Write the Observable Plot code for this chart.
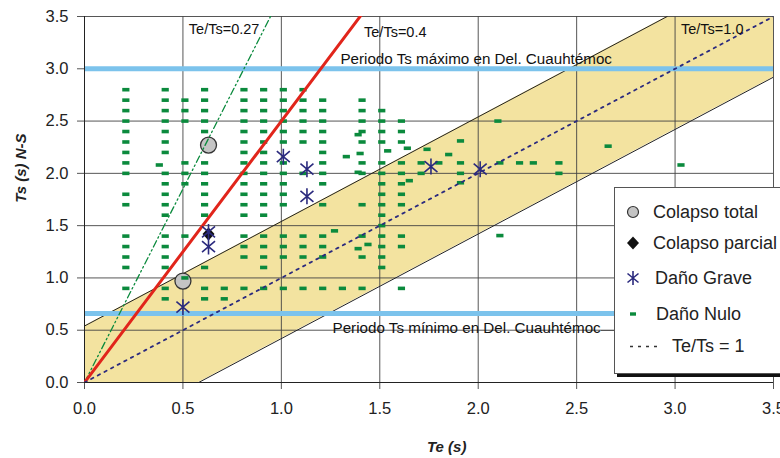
<!DOCTYPE html>
<html><head><meta charset="utf-8">
<script src="https://cdn.jsdelivr.net/npm/d3@7"></script>
<script src="https://cdn.jsdelivr.net/npm/@observablehq/plot@0.6"></script>
<style>
html,body{margin:0;padding:0;background:#fff;overflow:hidden;}
#wrap{position:relative;width:780px;height:458px;overflow:hidden;font-family:'Liberation Sans',Arial,sans-serif;}
#legend{position:absolute;left:614px;top:187px;width:185px;height:185px;border:1px solid #555;background:#fff;box-shadow:3px 3px 0 #111;}
.li{position:absolute;height:24px;line-height:24px;font-size:18px;color:#222;white-space:nowrap;}
.ls{position:absolute;left:5px;width:26px;height:24px;}
#leader{position:absolute;left:601px;top:330px;width:13px;height:1px;background:#555;}
</style></head>
<body><div id="wrap"><div id="chart"></div><div id="leader"></div><div id="legend"></div></div>
<script>
// ---- data ----
const xTicks = [0, 0.5, 1, 1.5, 2, 2.5, 3, 3.5];
const yTicks = [0, 0.5, 1, 1.5, 2, 2.5, 3, 3.5];
const xLabel = "Te (s)";
const yLabel = "Ts (s) N-S";
const xLabelPos = [1.84, -0.62];   // data position of x-axis title
const yLabelPos = [-0.32, 2.05];   // data position of y-axis title

const colapsoTotalTe = [0.63, 0.50];
const colapsoTotalTs = [2.27, 0.97];
const colapsoParcialTe = [0.63];
const colapsoParcialTs = [1.42];
const graveTe = [0.63, 0.63, 0.50, 1.01, 1.13, 1.13, 1.76, 2.01];
const graveTs = [1.44, 1.30, 0.72, 2.16, 2.04, 1.78, 2.065, 2.04];

// Daño Nulo: columns of buildings at the same Te
const nuloColTe = [0.21, 0.41, 0.51, 0.61, 0.71, 0.81, 0.91, 1.01, 1.11, 1.21, 1.31, 1.41, 1.51, 1.61];
const nuloColTs = [
  [2.8,2.7,2.6,2.5,2.4,2.3,2.2,2.1,2.0,1.8,1.7,1.4,1.3,1.2,1.1,0.9],
  [2.8,2.7,2.6,2.5,2.4,2.3,2.2,2.0,1.9,1.8,1.7,1.6,1.4,1.3,1.2,1.1,0.9,0.8],
  [2.7,2.6,2.5,2.1,2.0,1.9,1.4,1.0],
  [2.8,2.7,2.6,2.5,2.4,2.1,2.0,1.9,1.8,1.7,1.6,1.1,0.9,0.8],
  [0.9,0.8],
  [2.8,2.7,2.6,2.5,2.4,2.3,2.2,2.1,2.0,1.9,1.8,1.7,1.6,1.4,1.3,1.2,0.9],
  [2.8,2.7,2.6,2.5,2.4,2.3,2.2,2.1,2.0,1.9,1.8,1.7,1.6,1.4,1.3,1.2,1.1,0.9],
  [2.8,2.7,2.6,2.5,2.4,2.3,2.1,2.0,1.9,1.8,1.7,1.4,1.3,1.2,0.9],
  [2.8,2.7,2.6,2.5,2.4,2.3,2.0,1.4,1.3,1.2,0.9],
  [2.7,2.6,2.5,2.4,2.3,2.2,2.1,2.0,1.9,1.7,1.4,1.3,1.2,0.9],
  [0.9],
  [2.7,2.6,2.5,2.4,2.3,2.1,2.0,1.7,1.4,1.2,0.9],
  [2.6,2.5,2.4,2.3,2.1,2.0,1.9,1.8,1.7,1.6,1.5,1.4,1.3,1.2,1.1],
  [2.5,2.4,2.3,2.1,2.0,1.9,1.8,1.7,1.4,1.3,0.9]
];
// Daño Nulo: scattered buildings
const nuloExtraTe = [0.38, 1.33, 1.27, 1.39, 1.40, 1.39, 1.44, 1.39, 1.54, 1.64, 1.65, 1.71, 1.71, 1.74, 1.80, 1.85, 1.91, 1.91, 1.91, 1.91, 2.10, 2.11, 2.11, 2.21, 2.28, 2.41, 2.41, 2.66, 3.03];
const nuloExtraTs = [2.08, 2.16, 1.45, 2.37, 2.19, 2.01, 1.32, 1.28, 2.215, 2.24, 1.93, 2.1, 2.0, 2.23, 2.1, 2.18, 2.31, 2.1, 2.0, 1.91, 2.5, 2.1, 1.405, 2.1, 2.1, 2.1, 2.0, 2.26, 2.08];

const ratios = [0.27, 0.4, 1.0];
const bandUpper = 0.54;   // Ts = Te + 0.54
const bandLower = 0.58;   // Ts = Te - 0.58
const periodTs = [3.0, 0.66];

const annoText = ["Te/Ts=0.27", "Te/Ts=0.4", "Te/Ts=1.0"];
const annoTe = [0.53, 1.42, 3.03];
const annoTs = [3.378, 3.353, 3.378];
const periodText = ["Periodo Ts máximo en Del. Cuauhtémoc", "Periodo Ts mínimo en Del. Cuauhtémoc"];
const periodTextTe = [1.30, 1.26];
const periodTextTs = [3.095, 0.516];

const legendLabels = ["Colapso total", "Colapso parcial", "Daño Grave", "Daño Nulo", "Te/Ts = 1"];

// ---- build ----
const XMAX = 3.5, YMAX = 3.5;
const nulo = nuloColTe.flatMap((te, i) => nuloColTs[i].map(ts => ({te, ts})))
  .concat(nuloExtraTe.map((te, i) => ({te, ts: nuloExtraTs[i]})));
const total = colapsoTotalTe.map((te, i) => ({te, ts: colapsoTotalTs[i]}));
const parcial = colapsoParcialTe.map((te, i) => ({te, ts: colapsoParcialTs[i]}));
const grave = graveTe.map((te, i) => ({te, ts: graveTs[i]}));
const band = [0, bandLower, YMAX - bandUpper, XMAX].map(x => ({x, lo: Math.max(0, x - bandLower), hi: Math.min(YMAX, x + bandUpper)}));
const ratioLine = r => [[0, 0], [XMAX, XMAX / r]];

const GREEN = "#0b8a3d", NAVY = "#2b2a7e", RED = "#e1251b", BLUE = "#7cc3ec";
const dashSym = {draw(c){ c.rect(-3.6, -1.8, 7.2, 3.6); }};
const astSym = {draw(c){ c.moveTo(0,-8); c.lineTo(0,8); c.moveTo(-6.5,-5.5); c.lineTo(6.5,5.5); c.moveTo(-6.5,5.5); c.lineTo(6.5,-5.5); }};
const diaSym = {draw(c){ c.moveTo(0,-6.5); c.lineTo(6,0); c.lineTo(0,6.5); c.lineTo(-6,0); c.closePath(); }};

const chart = Plot.plot({
  width: 780, height: 458,
  marginLeft: 84, marginRight: 7, marginTop: 16, marginBottom: 76,
  x: {domain: [0, XMAX]},
  y: {domain: [0, YMAX]},
  style: {fontFamily: "'Liberation Sans', Arial, sans-serif", fontSize: "16.5px", color: "#222", background: "#fff"},
  marks: [
    Plot.areaY(band, {x: "x", y1: "lo", y2: "hi", fill: "#f3e3a0"}),
    Plot.gridX({ticks: xTicks, stroke: "#444", strokeOpacity: 0.9}),
    Plot.gridY({ticks: yTicks, stroke: "#444", strokeOpacity: 0.9}),
    Plot.line([[0, bandUpper], [YMAX - bandUpper, YMAX]], {stroke: "#222", strokeWidth: 1, clip: true}),
    Plot.line([[bandLower, 0], [XMAX, XMAX - bandLower]], {stroke: "#222", strokeWidth: 1, clip: true}),
    Plot.ruleY(periodTs, {stroke: BLUE, strokeWidth: 5}),
    Plot.axisX({ticks: xTicks, tickFormat: d => d.toFixed(1), tickSize: 7, tickPadding: 13, stroke: "#555"}),
    Plot.axisY({ticks: yTicks, tickFormat: d => d.toFixed(1), tickSize: 7, tickPadding: 9, stroke: "#555"}),
    Plot.ruleX([0], {stroke: "#222"}),
    Plot.ruleY([0], {stroke: "#222"}),
    Plot.dot(total, {x: "te", y: "ts", r: 8, fill: "#c4c4c4", stroke: "#333", strokeWidth: 1.3}),
    Plot.dot(nulo, {x: "te", y: "ts", symbol: dashSym, fill: GREEN, stroke: "none"}),
    Plot.line(ratioLine(ratios[0]), {stroke: GREEN, strokeWidth: 1.3, strokeDasharray: "7,3,1.5,3,1.5,3", clip: true}),
    Plot.line(ratioLine(ratios[1]), {stroke: RED, strokeWidth: 3, clip: true}),
    Plot.line(ratioLine(ratios[2]), {stroke: NAVY, strokeWidth: 1.8, strokeDasharray: "2.5,5", clip: true}),
    Plot.dot(parcial, {x: "te", y: "ts", symbol: diaSym, fill: "#111", stroke: "none"}),
    Plot.dot(grave, {x: "te", y: "ts", symbol: astSym, fill: "none", stroke: NAVY, strokeWidth: 1.6}),
    Plot.text(annoText, {x: (d, i) => annoTe[i], y: (d, i) => annoTs[i], text: d => d, textAnchor: "start", fontSize: 14.5, fill: "#111"}),
    Plot.text(periodText, {x: (d, i) => periodTextTe[i], y: (d, i) => periodTextTs[i], text: d => d, textAnchor: "start", fontSize: 15.2, fill: "#111"}),
    Plot.text([xLabel], {x: () => xLabelPos[0], y: () => xLabelPos[1], text: d => d, fontStyle: "italic", fontWeight: "bold", fontSize: 15, fill: "#222"}),
    Plot.text([yLabel], {x: () => yLabelPos[0], y: () => yLabelPos[1], text: d => d, rotate: -90, fontStyle: "italic", fontWeight: "bold", fontSize: 15, fill: "#222"})
  ]
});
document.getElementById("chart").appendChild(chart);

// ---- legend ----
const legendSymbols = [
  '<circle cx="13" cy="12" r="5.5" fill="#c4c4c4" stroke="#333" stroke-width="1.2"/>',
  '<path d="M13,5.5L19,12L13,18.5L7,12Z" fill="#111"/>',
  '<path d="M13,5V19M7.5,7.5L18.5,16.5M7.5,16.5L18.5,7.5" stroke="' + NAVY + '" stroke-width="1.6" fill="none"/>',
  '<rect x="10" y="10.3" width="6" height="3.4" fill="' + GREEN + '"/>',
  '<line x1="10" y1="12.5" x2="40" y2="12.5" stroke="#333" stroke-width="1.4" stroke-dasharray="3,5"/>'
];
const rowCenters = [24, 55, 90, 126, 158];
const textLeft = [38, 38, 40, 41, 57];
const lg = document.getElementById("legend");
legendLabels.forEach((lab, i) => {
  const s = document.createElement("div");
  s.className = "ls";
  s.style.top = (rowCenters[i] - 12) + "px";
  s.style.width = i === 4 ? "44px" : "26px";
  s.innerHTML = '<svg width="' + (i === 4 ? 44 : 26) + '" height="24">' + legendSymbols[i] + '</svg>';
  lg.appendChild(s);
  const t = document.createElement("div");
  t.className = "li";
  t.style.top = (rowCenters[i] - 12) + "px";
  t.style.left = textLeft[i] + "px";
  t.textContent = lab;
  lg.appendChild(t);
});
</script></body></html>
